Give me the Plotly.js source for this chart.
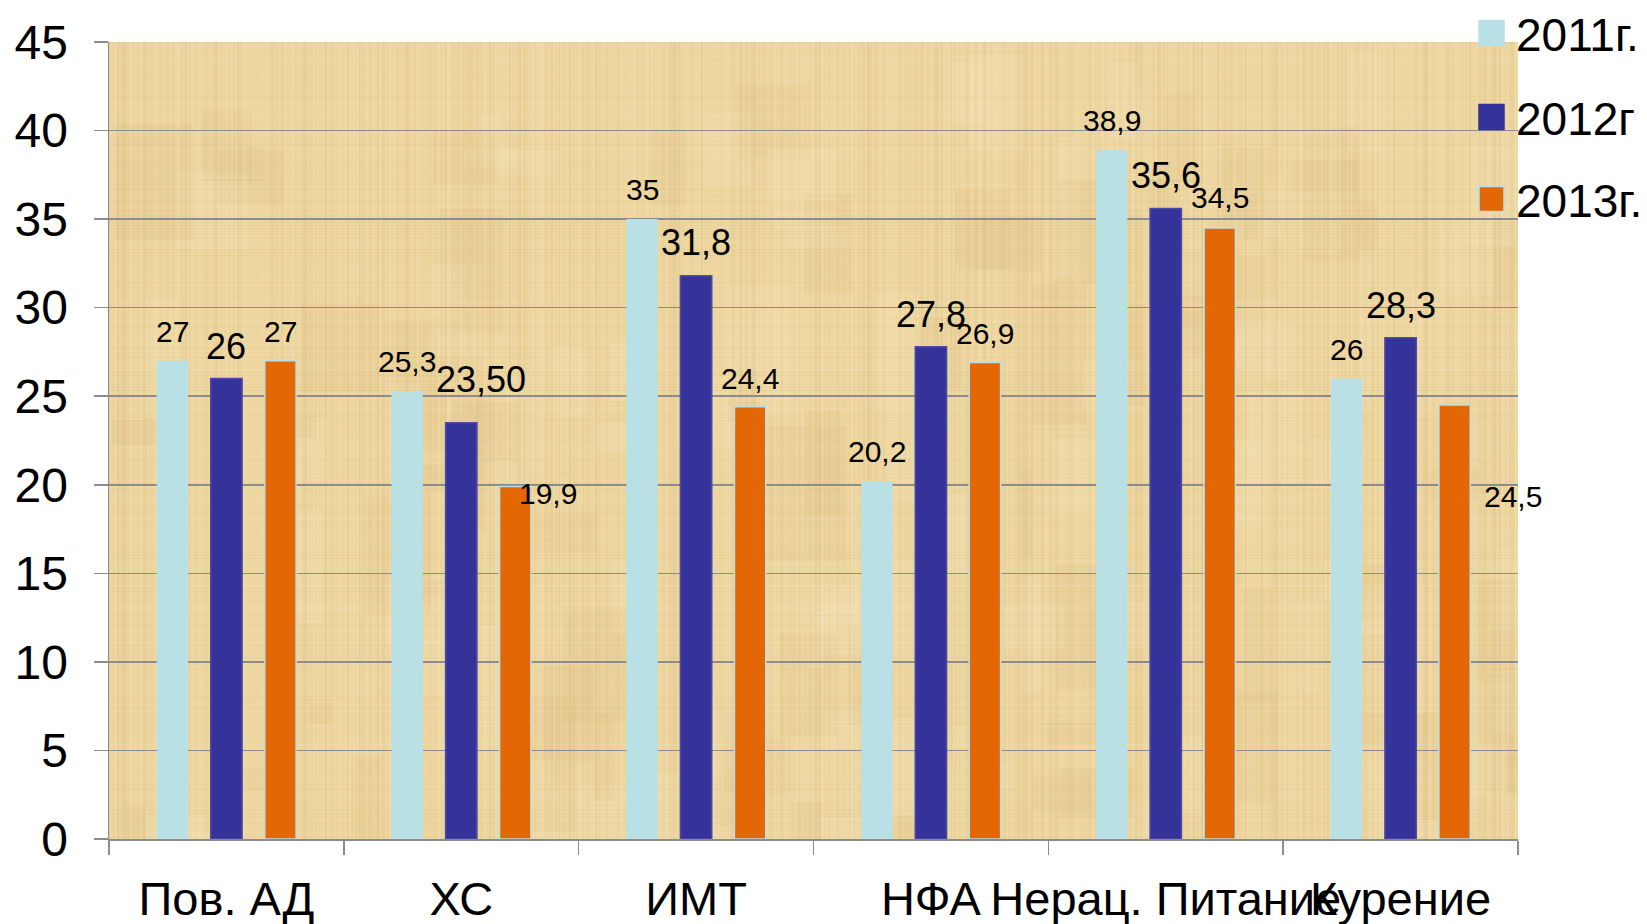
<!DOCTYPE html>
<html>
<head>
<meta charset="utf-8">
<script src="https://cdn.plot.ly/plotly-3.0.1.min.js"></script>
<style>
  html, body { margin: 0; padding: 0; background: #ffffff; }
  #chart { width: 1647px; height: 924px; }
</style>
</head>
<body>
<div id="chart"></div>
<script>
// ---- data ----
var categories = ["Пов. АД", "ХС", "ИМТ", "НФА", "Нерац. Питание", "Курение"];
var seriesNames = ["2011г.", "2012г", "2013г."];
var values2011 = [27, 25.3, 35, 20.2, 38.9, 26];
var values2012 = [26, 23.5, 31.8, 27.8, 35.6, 28.3];
var values2013 = [27, 19.9, 24.4, 26.9, 34.5, 24.5];
var labels2011 = ["27", "25,3", "35", "20,2", "38,9", "26"];
var labels2012 = ["26", "23,50", "31,8", "27,8", "35,6", "28,3"];
var labels2013 = ["27", "19,9", "24,4", "26,9", "34,5", "24,5"];
var yTickVals = [0, 5, 10, 15, 20, 25, 30, 35, 40, 45];

// ---- style ----
var colors = ["#B9E0E4", "#353399", "#E36704"];
var outline = ["rgba(0,0,0,0)", "#4B4AA8", "#B9E0E4"];
var labelSizes = [30, 36, 30];
// per label offsets (px): horizontal shift from bar centre, baseline distance above bar top
var labelDx = [
  [0, 0, 0, 0, 0, 0],
  [0, 20, 0, 0, 0, 0],
  [0, 33, 0, 0, 0, 58]
];
var labelBaseAbove = [
  [19, 19, 19, 19, 19, 19],
  [19, 30, 20, 19, 20, 19],
  [19, -17, 18, 19, 20, -102]
];

var W = 1647, H = 924;
var M = {l: 109, r: 129, t: 42, b: 85};
var plotW = W - M.l - M.r, plotH = H - M.t - M.b;
var bargap = 0.31, bargroupgap = 0.42;
var catW = plotW / categories.length;
var slot = catW * (1 - bargap) / 3;

// papyrus-like background texture (decoration only)
function papyrus(w, h) {
  var c = document.createElement("canvas");
  c.width = w; c.height = h;
  var g = c.getContext("2d");
  g.fillStyle = "rgb(237,214,160)";
  g.fillRect(0, 0, w, h);
  var seed = 12345;
  function rnd() { seed = (seed * 1103515245 + 12345) % 2147483648; return seed / 2147483648; }
  // soft patches
  for (var k = 0; k < 160; k++) {
    var x = rnd() * w, y = rnd() * h, pw = 10 + rnd() * 70, ph = 20 + rnd() * 120;
    var light = rnd() < 0.5;
    g.fillStyle = light ? "rgba(246,228,185,0.22)" : "rgba(218,188,125,0.16)";
    g.fillRect(x, y, pw, ph);
  }
  // vertical fibers
  for (var i = 0; i < w; i += 2) {
    var a = rnd() * 0.2;
    g.fillStyle = (rnd() < 0.5) ? "rgba(205,172,105," + a + ")" : "rgba(250,236,198," + a + ")";
    g.fillRect(i, 0, 1 + Math.floor(rnd() * 2), h);
  }
  // horizontal fibers
  for (var j = 0; j < h; j += 3) {
    var b = rnd() * 0.16;
    g.fillStyle = (rnd() < 0.5) ? "rgba(205,172,105," + b + ")" : "rgba(250,236,198," + b + ")";
    g.fillRect(0, j, w, 1);
  }
  return c.toDataURL("image/png");
}

var allValues = [values2011, values2012, values2013];
var allLabels = [labels2011, labels2012, labels2013];

var traces = allValues.map(function (vals, i) {
  return {
    type: "bar",
    name: seriesNames[i],
    x: categories,
    y: vals,
    marker: {color: colors[i], line: {color: outline[i], width: i === 0 ? 0 : 1.5}},
    hoverinfo: "none",
    showlegend: false
  };
});

var annotations = [];
allValues.forEach(function (vals, i) {
  vals.forEach(function (v, j) {
    var s = labelSizes[i];
    var descent = 0.24 * s + 1;
    annotations.push({
      x: categories[j], y: v, xref: "x", yref: "y",
      text: allLabels[i][j], showarrow: false,
      xanchor: "center", yanchor: "bottom",
      xshift: (i - 1) * slot + labelDx[i][j],
      yshift: labelBaseAbove[i][j] - descent,
      font: {family: "Liberation Sans, Arial, sans-serif", size: s, color: "#000000"}
    });
  });
});

// custom legend (paper coords from pixel positions)
function px2x(px) { return (px - M.l) / plotW; }
function py2y(py) { return (H - M.b - py) / plotH; }
var shapes = [];
var legendY = [33, 117, 199];
seriesNames.forEach(function (nm, i) {
  shapes.push({
    type: "rect", xref: "paper", yref: "paper",
    x0: px2x(1479), x1: px2x(1504),
    y0: py2y(legendY[i] + 12.5), y1: py2y(legendY[i] - 12.5),
    fillcolor: colors[i],
    line: {color: i === 2 ? "#B9E0E4" : colors[i], width: 1.5}
  });
  annotations.push({
    x: px2x(1514), y: py2y(legendY[i] + 2), xref: "paper", yref: "paper",
    text: nm, showarrow: false, xanchor: "left", yanchor: "middle",
    font: {family: "Liberation Sans, Arial, sans-serif", size: 46, color: "#000000"}
  });
});

var layout = {
  width: W, height: H,
  margin: M,
  paper_bgcolor: "#ffffff",
  plot_bgcolor: "#EDD6A0",
  barmode: "group",
  bargap: bargap,
  bargroupgap: bargroupgap,
  font: {family: "Liberation Sans, Arial, sans-serif", color: "#000000"},
  xaxis: {
    type: "category",
    range: [-0.5, categories.length - 0.5],
    autorange: false,
    tickson: "boundaries",
    tickangle: 0,
    ticks: "outside", ticklen: 14, tickwidth: 1.5, tickcolor: "#8C8C8C",
    showline: true, linecolor: "#8C8C8C", linewidth: 1.5,
    showgrid: false,
    tickfont: {size: 47, color: "#000000"},
    ticklabelstandoff: 18
  },
  yaxis: {
    range: [0, 45],
    autorange: false,
    tickvals: yTickVals,
    ticks: "outside", ticklen: 14, tickwidth: 1.5, tickcolor: "#8C8C8C",
    showline: true, linecolor: "#8C8C8C", linewidth: 1.5,
    showgrid: true, gridcolor: "#8C8C8C", gridwidth: 1.5,
    zeroline: false,
    tickfont: {size: 48, color: "#000000"},
    ticklabelstandoff: 16
  },
  images: [{
    source: papyrus(Math.round(plotW), Math.round(plotH)),
    xref: "paper", yref: "paper", x: 0, y: 1, sizex: 1, sizey: 1,
    xanchor: "left", yanchor: "top", sizing: "stretch", layer: "below"
  }],
  shapes: shapes,
  annotations: annotations
};

Plotly.newPlot("chart", traces, layout, {displayModeBar: false, staticPlot: true});
</script>
</body>
</html>
